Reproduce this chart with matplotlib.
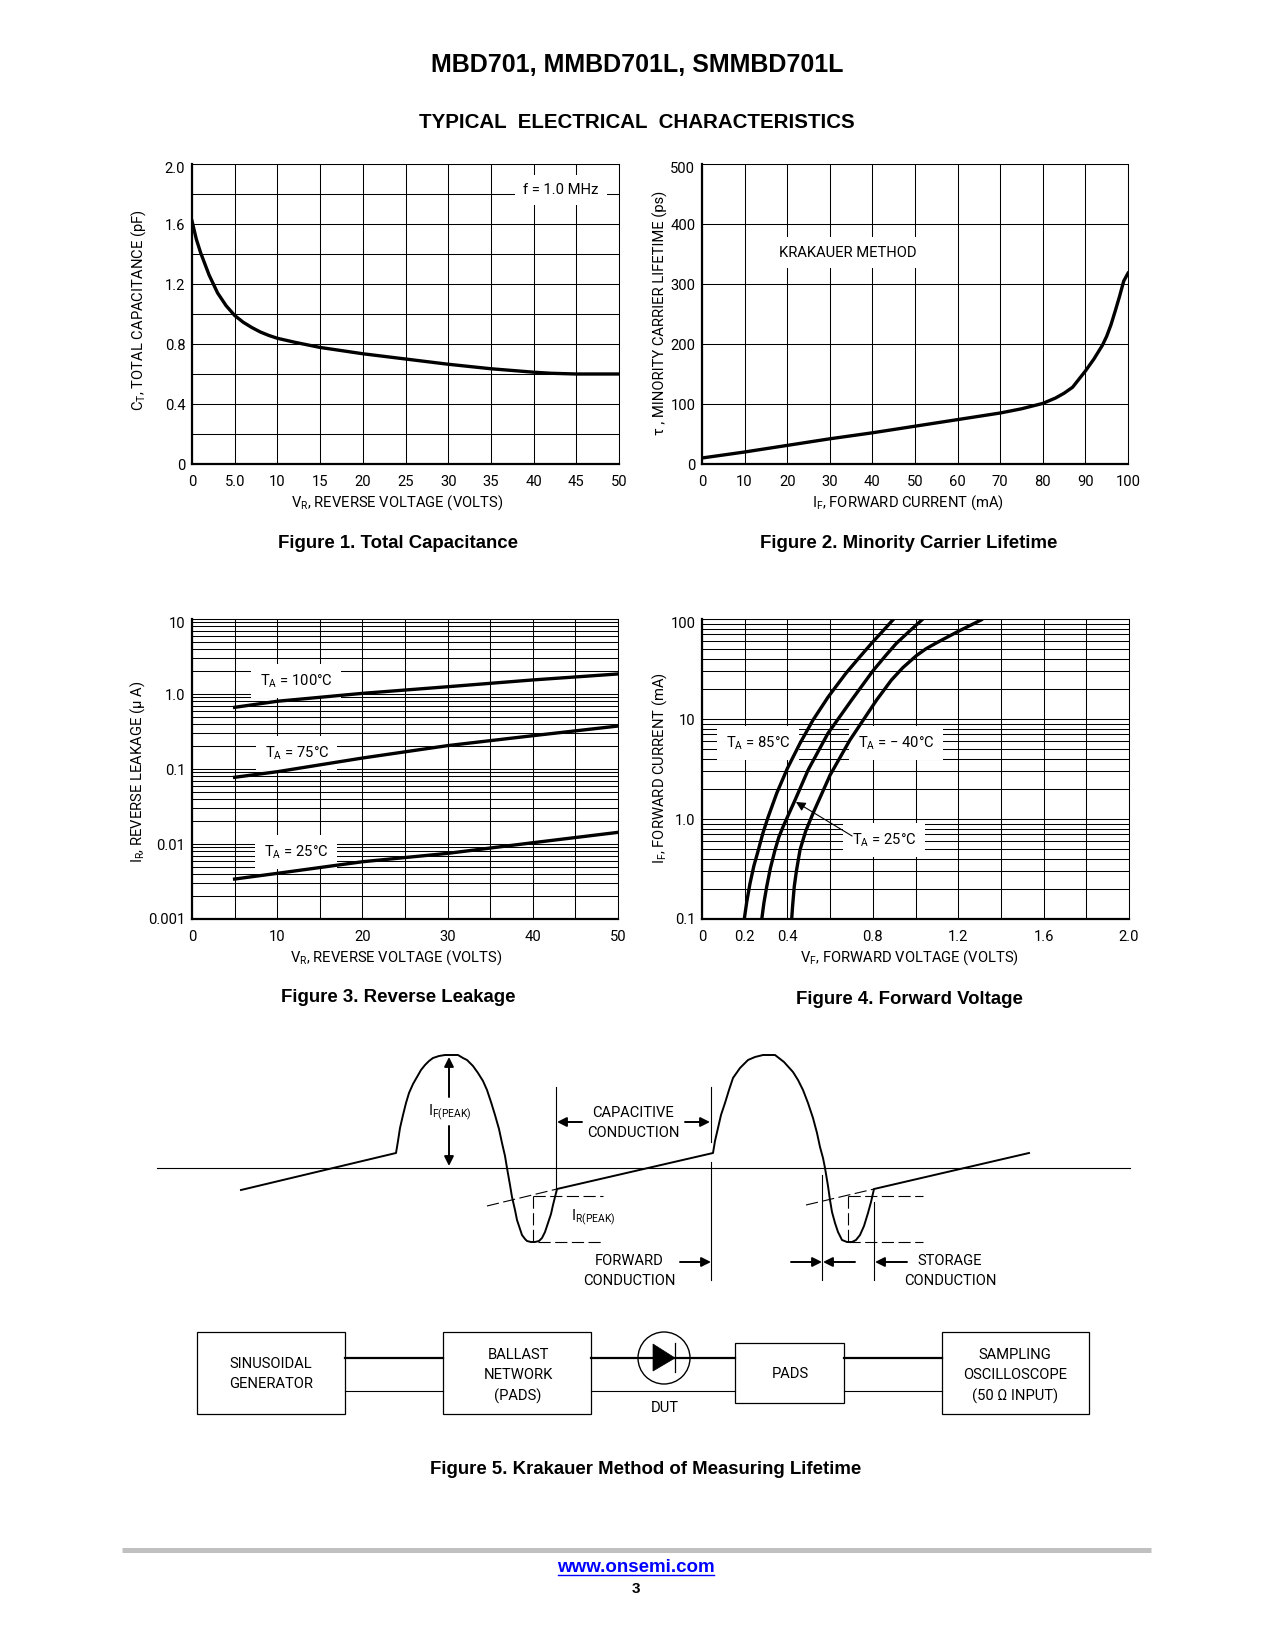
import matplotlib
matplotlib.use('Agg')
import matplotlib.pyplot as plt
from matplotlib.patches import Circle, Polygon, Rectangle
from matplotlib.transforms import ScaledTranslation

plt.rcParams['font.family'] = ['Roboto', 'Liberation Sans', 'DejaVu Sans']
plt.rcParams['mathtext.default'] = 'regular'

W, H = 1275, 1650
FS = 10.6
BOLD = ['Liberation Sans', 'DejaVu Sans']

# figure 1
cap_v = [0, 0.5, 1, 2, 3, 4, 5, 6, 7, 8, 9, 10, 12, 15, 20, 25, 30, 35, 40, 42, 45, 50]
cap_pf = [1.62, 1.50, 1.41, 1.26, 1.14, 1.055, 0.99, 0.945, 0.91, 0.88, 0.857, 0.838, 0.812, 0.777,
          0.735, 0.70, 0.665, 0.635, 0.612, 0.605, 0.60, 0.60]

# figure 2
life_ma = [0, 10, 20, 30, 40, 50, 60, 70, 75, 80, 83, 85, 87, 88, 90, 92, 94, 95, 96, 97, 98, 99, 100]
life_ps = [10, 20, 31, 42, 52, 63, 74, 85, 92, 101, 110, 118, 128, 137, 155, 175, 198, 213, 232, 255, 279, 305, 318]

# figure 3
leak_v = [5, 10, 20, 30, 40, 50]
leak_100 = [0.664, 0.80, 1.02, 1.25, 1.54, 1.85]
leak_75 = [0.0775, 0.092, 0.14, 0.205, 0.278, 0.374]
leak_25 = [0.00341, 0.00406, 0.0058, 0.0075, 0.0104, 0.0143]

# figure 4
vf_85 = [0.198, 0.21, 0.225, 0.243, 0.264, 0.285, 0.31, 0.35, 0.40, 0.459, 0.52, 0.59, 0.63, 0.676, 0.74, 0.801, 0.85, 0.898]
if_85 = [0.1, 0.15, 0.2275, 0.34, 0.49, 0.72, 1.05, 1.81, 3.21, 5.71, 9.77, 16.5, 21.5, 29, 42, 59.3, 77, 100]
vf_25 = [0.28, 0.29, 0.303, 0.32, 0.342, 0.36, 0.381, 0.436, 0.497, 0.59, 0.701, 0.801, 0.86, 0.91, 0.97, 1.03]
if_25 = [0.1, 0.145, 0.21, 0.32, 0.49, 0.66, 0.85, 1.55, 3.09, 7.19, 15.5, 30.4, 43, 57, 75, 98]
vf_m40 = [0.42, 0.425, 0.432, 0.442, 0.459, 0.485, 0.52, 0.60, 0.693, 0.818, 0.887, 0.94, 1.004, 1.05, 1.10, 1.199, 1.308]
if_m40 = [0.1, 0.14, 0.21, 0.30, 0.49, 0.75, 1.14, 2.75, 6.17, 15.5, 24.5, 32.5, 43, 50.5, 58, 75, 98]

# figure 5 waveform, page pixels
wave_x = [241, 396, 398, 400, 403, 406, 409, 413, 417, 421, 425, 429, 433, 439, 445, 452, 458, 463, 467,
          473, 478, 483, 487, 491, 495, 499, 502, 505, 507, 510, 512, 515, 517, 520, 522, 525, 527, 531, 535,
          539, 542, 545, 548, 551, 553, 555, 557,
          713, 715, 718, 721, 725, 729, 733, 740, 748, 755, 763, 770, 775, 784, 793, 798, 803, 808, 813, 817,
          820, 823, 825, 828, 830, 832, 835, 838, 842, 847, 852, 856, 860, 864, 868, 871, 874, 1029]
wave_y = [1190, 1153, 1141, 1128, 1115, 1103, 1093, 1084, 1077, 1070, 1065, 1061, 1058, 1056, 1055, 1055, 1055, 1058, 1060,
          1066, 1073, 1081, 1090, 1102, 1115, 1129, 1143, 1156, 1168, 1185, 1197, 1210, 1220, 1229, 1235, 1239, 1241, 1242, 1242,
          1241, 1238, 1232, 1223, 1214, 1205, 1197, 1189,
          1153, 1141, 1128, 1115, 1103, 1090, 1078, 1068, 1060, 1057, 1055, 1055, 1055, 1062, 1072, 1080, 1090, 1103, 1118, 1133,
          1147, 1158, 1168, 1186, 1200, 1212, 1223, 1232, 1240, 1242, 1242, 1240, 1235, 1226, 1213, 1202, 1189, 1153]


def make_axes(left, right, top, bottom):
    return fig.add_axes([left / W, 1 - bottom / H, (right - left) / W, (bottom - top) / H])


def style(ax, xlabel, ylabel, xc, yc, ylab_x):
    ax.grid(True, which='both', color='black', lw=0.75)
    ax.set_axisbelow(True)
    ax.tick_params(which='both', length=0, labelsize=FS)
    ax.tick_params(axis='x', pad=8.2)
    ax.tick_params(axis='y', pad=4.8)
    for s in ax.spines.values():
        s.set_linewidth(0.75)
    ax.spines['left'].set_linewidth(1.6)
    ax.spines['bottom'].set_linewidth(1.6)
    ax.set_xlabel(xlabel, fontsize=FS, va='center')
    ax.set_ylabel(ylabel, fontsize=FS, va='center')
    ax.xaxis.set_label_coords(xc, -0.13)
    ax.yaxis.set_label_coords(ylab_x, yc)
    top = ax.get_yticklabels()[-1]
    top.set_va('top')
    top.set_transform(top.get_transform() + ScaledTranslation(0, 1.5 / 72, fig.dpi_scale_trans))


def note(ax, x, y, s, pad=6):
    ax.text(x, y, s, fontsize=FS, ha='center', va='center', zorder=3,
            bbox=dict(fc='white', ec='none', pad=pad))


fig = plt.figure(figsize=(12.75, 16.5), dpi=100)

# page layer in pixel coordinates
page = fig.add_axes([0, 0, 1, 1])
page.set_xlim(0, W)
page.set_ylim(H, 0)
page.axis('off')

page.text(637, 65, 'MBD701, MMBD701L, SMMBD701L', family=BOLD, weight='bold', fontsize=18, ha='center', va='center')
page.text(637, 122, 'TYPICAL  ELECTRICAL  CHARACTERISTICS', family=BOLD, weight='bold', fontsize=14.75, ha='center', va='center')
captions = [(398, 543, 'Figure 1. Total Capacitance'), (909, 543, 'Figure 2. Minority Carrier Lifetime'),
            (398, 997, 'Figure 3. Reverse Leakage'), (909, 999, 'Figure 4. Forward Voltage'),
            (646, 1469, 'Figure 5. Krakauer Method of Measuring Lifetime')]
for cx, cy, s in captions:
    page.text(cx, cy, s, family=BOLD, weight='bold', fontsize=13.4, ha='center', va='center')

# fig 1
ax1 = make_axes(192, 619, 164, 464)
ax1.plot(cap_v, cap_pf, color='black', lw=2.4, zorder=4, solid_joinstyle='round')
ax1.set_xlim(0, 50)
ax1.set_ylim(0, 2)
ax1.set_xticks(range(0, 51, 5), ['0', '5.0', '10', '15', '20', '25', '30', '35', '40', '45', '50'])
ax1.set_yticks([0, 0.2, 0.4, 0.6, 0.8, 1.0, 1.2, 1.4, 1.6, 1.8, 2.0],
               ['0', '', '0.4', '', '0.8', '', '1.2', '', '1.6', '', '2.0'])
style(ax1, 'V$_{R}$, REVERSE VOLTAGE (VOLTS)', 'C$_{T}$, TOTAL CAPACITANCE (pF)', 0.48, 0.513, -0.126)
note(ax1, 43.2, 1.827, 'f = 1.0 MHz')

# fig 2
ax2 = make_axes(702, 1128, 164, 464)
ax2.plot(life_ma, life_ps, color='black', lw=2.4, zorder=4, solid_joinstyle='round')
ax2.set_xlim(0, 100)
ax2.set_ylim(0, 500)
ax2.set_xticks(range(0, 101, 10))
ax2.set_yticks(range(0, 501, 100))
style(ax2, 'I$_{F}$, FORWARD CURRENT (mA)', '\u03c4 , MINORITY CARRIER LIFETIME (ps)', 0.484, 0.503, -0.0986)
note(ax2, 34.3, 352, 'KRAKAUER METHOD')

# fig 3
ax3 = make_axes(192, 618, 619, 919)
ax3.set_yscale('log')
for vals in (leak_100, leak_75, leak_25):
    ax3.plot(leak_v, vals, color='black', lw=2.4, zorder=4)
ax3.set_xlim(0, 50)
ax3.set_ylim(0.001, 10)
ax3.set_xticks(range(0, 51, 5), ['0', '', '10', '', '20', '', '30', '', '40', '', '50'])
ax3.set_yticks([0.001, 0.01, 0.1, 1, 10], ['0.001', '0.01', '0.1', '1.0', '10'])
style(ax3, 'V$_{R}$, REVERSE VOLTAGE (VOLTS)', 'I$_{R}$, REVERSE LEAKAGE (\u03bc A)', 0.48, 0.49, -0.127)
note(ax3, 12.2, 1.49, 'T$_{A}$ = 100\u00b0C')
note(ax3, 12.3, 0.163, 'T$_{A}$ = 75\u00b0C')
note(ax3, 12.2, 0.00782, 'T$_{A}$ = 25\u00b0C')

# fig 4
ax4 = make_axes(702, 1129, 619, 919)
ax4.set_yscale('log')
ax4.plot(vf_85, if_85, color='black', lw=2.4, zorder=4)
ax4.plot(vf_25, if_25, color='black', lw=2.4, zorder=4)
ax4.plot(vf_m40, if_m40, color='black', lw=2.4, zorder=4)
ax4.set_xlim(0, 2)
ax4.set_ylim(0.1, 100)
ax4.set_xticks([i * 0.2 for i in range(11)], ['0', '0.2', '0.4', '', '0.8', '', '1.2', '', '1.6', '', '2.0'])
ax4.set_yticks([0.1, 1, 10, 100], ['0.1', '1.0', '10', '100'])
style(ax4, 'V$_{F}$, FORWARD VOLTAGE (VOLTS)', 'I$_{F}$, FORWARD CURRENT (mA)', 0.485, 0.503, -0.0986)
note(ax4, 0.262, 5.75, 'T$_{A}$ = 85\u00b0C')
note(ax4, 0.909, 5.75, 'T$_{A}$ = \u2212 40\u00b0C')
note(ax4, 0.852, 0.617, 'T$_{A}$ = 25\u00b0C')
ax4.annotate('', xy=(0.44, 1.48), xytext=(0.703, 0.676), zorder=5,
             arrowprops=dict(arrowstyle='-|>', color='black', lw=0.8, shrinkA=0, shrinkB=0, mutation_scale=14))

# fig 5 waveform
page.plot([157, 1130], [1168, 1168], color='black', lw=0.8)
page.plot(wave_x, wave_y, color='black', lw=1.4, solid_joinstyle='round')
for seg in [([556, 556], [1087, 1192]), ([711, 711], [1087, 1142]), ([711, 711], [1162, 1280]),
            ([822, 822], [1175, 1280]), ([874, 874], [1202, 1280])]:
    page.plot(seg[0], seg[1], color='black', lw=0.8)
dashes = [([487, 557], [1206, 1189]), ([533, 603], [1196, 1196]), ([538, 603], [1242, 1242]), ([533, 533], [1196, 1242]),
          ([806, 874], [1205, 1189]), ([848, 923], [1196, 1196]), ([848, 923], [1242, 1242]), ([848, 848], [1196, 1242])]
for seg in dashes:
    page.plot(seg[0], seg[1], color='black', lw=0.8, dashes=(11, 4))
arrows = [(449, 1097, 449, 1057), (449, 1126, 449, 1166), (582, 1122, 557, 1122), (685, 1122, 710, 1122),
          (680, 1262, 711, 1262), (791, 1262, 822, 1262), (855, 1262, 823, 1262), (907, 1262, 875, 1262)]
for x0, y0, x1, y1 in arrows:
    page.annotate('', xy=(x1, y1), xytext=(x0, y0),
                  arrowprops=dict(arrowstyle='-|>', color='black', lw=1.4, shrinkA=0, shrinkB=0, mutation_scale=14))

labels = [(450, 1112, 'I$_{F(PEAK)}$'), (633, 1123, 'CAPACITIVE\nCONDUCTION'), (593, 1217, 'I$_{R(PEAK)}$'),
          (629, 1271, 'FORWARD\nCONDUCTION'), (950, 1271, 'STORAGE\nCONDUCTION'),
          (271, 1374, 'SINUSOIDAL\nGENERATOR'), (518, 1376, 'BALLAST\nNETWORK\n(PADS)'), (790, 1374, 'PADS'),
          (1015, 1376, 'SAMPLING\nOSCILLOSCOPE\n(50 \u03a9 INPUT)'), (665, 1408, 'DUT')]
for lx, ly, s in labels:
    page.text(lx, ly, s, fontsize=FS, ha='center', va='center', linespacing=1.55)

# block diagram
boxes = [(197, 345, 1332, 1414), (443, 591, 1332, 1414), (735, 844, 1343, 1403), (942, 1089, 1332, 1414)]
for x0, x1, y0, y1 in boxes:
    page.add_patch(Rectangle((x0, y0), x1 - x0, y1 - y0, fc='none', ec='black', lw=0.9))
for x0, x1 in [(345, 443), (591, 735), (844, 942)]:
    page.plot([x0, x1], [1358, 1358], color='black', lw=1.6)
    page.plot([x0, x1], [1391, 1391], color='black', lw=0.8)
page.add_patch(Circle((664, 1358), 26, fc='none', ec='black', lw=1.0, zorder=2.5))
page.add_patch(Polygon([(653, 1344), (653, 1371), (675, 1358)], fc='black', ec='black', lw=0.5, zorder=3))
page.plot([675, 675], [1343, 1372], color='black', lw=0.9, zorder=3)

# footer
page.plot([122, 1151], [1550, 1550], color='#c0c0c0', lw=3.6, solid_capstyle='butt')
page.text(636, 1567, 'www.onsemi.com', family=BOLD, weight='bold', fontsize=13.5, color='#0000ff', ha='center', va='center')
page.plot([558, 714], [1575, 1575], color='#0000ff', lw=1)
page.text(636, 1589, '3', family=BOLD, weight='bold', fontsize=11, ha='center', va='center')

plt.savefig('out.png', dpi=100)
